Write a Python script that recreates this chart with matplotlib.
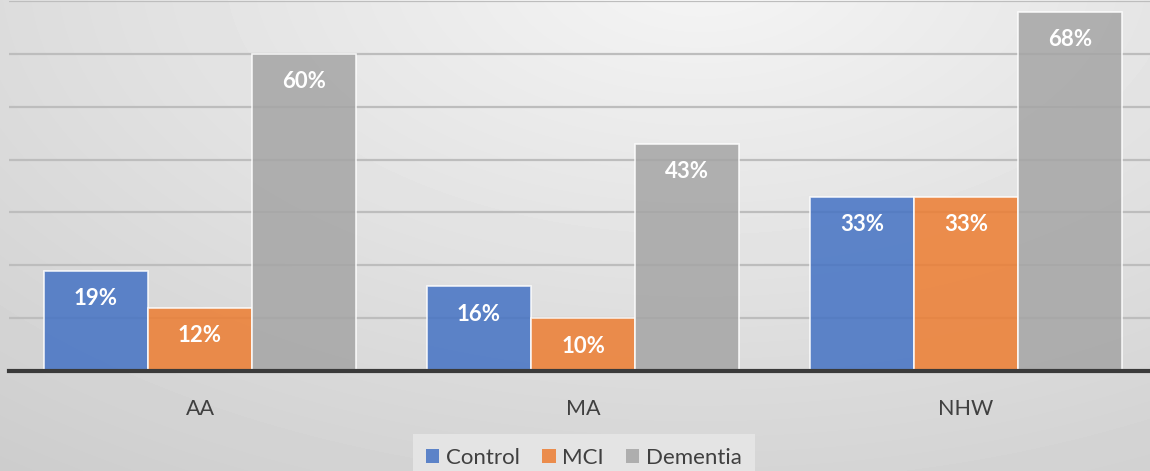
import numpy as np
import matplotlib
matplotlib.use("Agg")
import matplotlib.pyplot as plt
from matplotlib.patches import Patch

# Share of participants by group and cognitive status (%)
groups = ["AA", "MA", "NHW"]
series_names = ["Control", "MCI", "Dementia"]
control = [19, 16, 33]
mci = [12, 10, 33]
dementia = [60, 43, 68]
series_values = [control, mci, dementia]
series_colors = ["#4472C4", "#ED7D31", "#A5A5A5"]

W, H, DPI = 1150, 471, 100
plt.rcParams["font.family"] = ["Lato", "DejaVu Sans"]

fig = plt.figure(figsize=(W / DPI, H / DPI), dpi=DPI)

# Soft radial gray background
bg = fig.add_axes([0, 0, 1, 1], zorder=-10)
yy, xx = np.mgrid[0:H, 0:W]
r = np.sqrt(((xx - 700) / 900.0) ** 2 + ((yy + 30) / 500.0) ** 2)
shade = np.clip(245 - 32 * r, 195, 250) / 255.0
bg.imshow(shade, cmap="gray", vmin=0, vmax=1, aspect="auto",
          extent=[0, W, H, 0], interpolation="bilinear")
bg.set_axis_off()

ax = fig.add_axes([9 / W, 1 - 371 / H, (W - 9) / W, 370 / H])
ax.set_facecolor("none")

x = np.arange(len(groups))
bw = 0.2715
offsets = [-bw, 0, bw]
for vals, name, col, off in zip(series_values, series_names, series_colors, offsets):
    bars = ax.bar(x + off, vals, width=bw, color=col, alpha=0.85,
                  edgecolor=(1, 1, 1, 0.35), linewidth=1.2, label=name, zorder=3)
    for b, v in zip(bars, vals):
        ax.annotate(f"{v}%", (b.get_x() + b.get_width() / 2, v),
                    xytext=(0, -28), textcoords="offset pixels",
                    ha="center", va="center", color="white",
                    fontsize=16, fontweight="bold", zorder=5)

ax.set_ylim(0, 70)
ax.set_xlim(-0.4987, 2.4804)
ax.set_yticks(np.arange(10, 71, 10))
ax.yaxis.grid(True, color="#bdbdbd", linewidth=1.6, zorder=1)
ax.set_axisbelow(True)
ax.tick_params(axis="y", left=False, labelleft=False)
ax.tick_params(axis="x", bottom=False, pad=17, labelsize=15.5, labelcolor="#404040")
ax.set_xticks(x)
ax.set_xticklabels(groups)
for s in ["top", "right", "left"]:
    ax.spines[s].set_visible(False)
ax.spines["bottom"].set_color("#3a3a3a")
ax.spines["bottom"].set_linewidth(3)
ax.spines["bottom"].set_zorder(6)

handles = [Patch(facecolor=c, alpha=0.85, edgecolor="none") for c in series_colors]
leg = fig.legend(handles, series_names, loc="lower center",
                 bbox_to_anchor=(584 / W, -21 / H), ncol=3, frameon=True,
                 fontsize=16, handlelength=0.6, handleheight=0.6,
                 handletextpad=0.3, columnspacing=1.0, borderpad=0.6,
                 labelcolor="#404040")
leg.get_frame().set_facecolor("#e4e4e4")
leg.get_frame().set_edgecolor("none")
leg.get_frame().set_alpha(1)
leg.get_frame().set_boxstyle("square", pad=0)

fig.savefig("out.png", dpi=DPI)
